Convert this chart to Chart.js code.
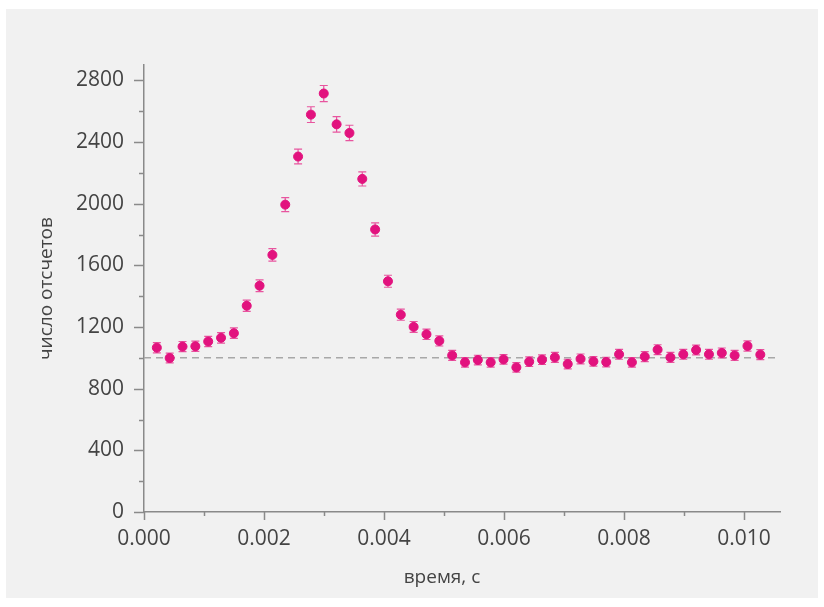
<!DOCTYPE html>
<html>
<head>
<meta charset="utf-8">
<script src="https://cdn.jsdelivr.net/npm/chart.js@4/dist/chart.umd.min.js"></script>
<style>
  html, body { margin: 0; padding: 0; background: #fff; }
  #wrap { width: 824px; height: 607px; }
</style>
</head>
<body>
<div id="wrap"><canvas id="c" width="824" height="607"></canvas></div>
<script>
// time bins, s
const times = [
  0.000214, 0.000428, 0.000642, 0.000856, 0.00107, 0.001284, 0.001498, 0.001712,
  0.001926, 0.00214, 0.002354, 0.002568, 0.002782, 0.002996, 0.00321, 0.003424,
  0.003638, 0.003852, 0.004066, 0.00428, 0.004494, 0.004708, 0.004922, 0.005136,
  0.00535, 0.005564, 0.005778, 0.005992, 0.006206, 0.00642, 0.006634, 0.006848,
  0.007062, 0.007276, 0.00749, 0.007704, 0.007918, 0.008132, 0.008346, 0.00856,
  0.008774, 0.008988, 0.009202, 0.009416, 0.00963, 0.009844, 0.010058, 0.010272,
];
// counts per bin
const counts = [
  1066, 999, 1073, 1075, 1106, 1130, 1160, 1338,
  1468, 1668, 1994, 2306, 2578, 2715, 2515, 2459,
  2161, 1833, 1497, 1280, 1201, 1153, 1110, 1016,
  971, 986, 971, 990, 938, 975, 988, 1003,
  960, 993, 977, 973, 1023, 971, 1008, 1053,
  1003, 1023, 1051, 1023, 1032, 1016, 1077, 1021,
];
// error bars (± counts)
const errors = [
  33, 32, 33, 33, 33, 34, 34, 37,
  38, 41, 45, 48, 51, 52, 50, 50,
  46, 43, 39, 36, 35, 34, 33, 32,
  31, 31, 31, 31, 31, 31, 31, 32,
  31, 32, 31, 31, 32, 31, 32, 32,
  32, 32, 32, 32, 32, 32, 33, 32,
];
const baseline = 1000;
const xTicks = [0, 0.002, 0.004, 0.006, 0.008, 0.010];
const yTicks = [0, 400, 800, 1200, 1600, 2000, 2400, 2800];
const xTitle = "время, с";
const yTitle = "число отсчетов";

const PINK = "#e2127e";
const AXIS = "#8a8a8a";
const TEXT = "#444";
const FONT = "'Open Sans', 'Noto Sans', sans-serif";

const panel = {
  id: "panel",
  beforeDraw(chart) {
    const ctx = chart.ctx;
    ctx.save();
    ctx.fillStyle = "#fff";
    ctx.fillRect(0, 0, chart.width, chart.height);
    ctx.fillStyle = "#f1f1f1";
    ctx.fillRect(6, 9, chart.width - 12, chart.height - 18);
    ctx.restore();
  },
};

const extras = {
  id: "extras",
  beforeDatasetsDraw(chart) {
    const { ctx, chartArea: a, scales: { x, y } } = chart;
    ctx.save();
    // dashed baseline
    ctx.strokeStyle = "#a8a8a8";
    ctx.lineWidth = 1.5;
    ctx.setLineDash([7, 5]);
    const yb = y.getPixelForValue(baseline);
    ctx.beginPath();
    ctx.moveTo(a.left, yb);
    ctx.lineTo(a.right - 4, yb);
    ctx.stroke();
    ctx.setLineDash([]);
    // error bars
    ctx.strokeStyle = "#e8559f";
    ctx.lineWidth = 1.2;
    times.forEach((t, i) => {
      const px = x.getPixelForValue(t);
      const y1 = y.getPixelForValue(counts[i] + errors[i]);
      const y2 = y.getPixelForValue(counts[i] - errors[i]);
      ctx.beginPath();
      ctx.moveTo(px, y1); ctx.lineTo(px, y2);
      ctx.moveTo(px - 4, y1); ctx.lineTo(px + 4, y1);
      ctx.moveTo(px - 4, y2); ctx.lineTo(px + 4, y2);
      ctx.stroke();
    });
    // tick marks, major + minor
    ctx.strokeStyle = AXIS;
    ctx.lineWidth = 1.5;
    for (let v = 0; v <= 2800; v += 200) {
      const py = Math.round(y.getPixelForValue(v)) + 0.5;
      const len = v % 400 === 0 ? 10 : 5;
      ctx.beginPath();
      ctx.moveTo(a.left - len, py); ctx.lineTo(a.left, py);
      ctx.stroke();
    }
    for (let k = 0; k <= 10; k++) {
      const px = Math.round(x.getPixelForValue(k * 0.001)) + 0.5;
      const len = k % 2 === 0 ? 8 : 4;
      ctx.beginPath();
      ctx.moveTo(px, a.bottom); ctx.lineTo(px, a.bottom + len);
      ctx.stroke();
    }
    // axis titles
    ctx.fillStyle = TEXT;
    ctx.font = "19px " + FONT;
    ctx.textAlign = "center";
    ctx.textBaseline = "middle";
    ctx.fillText(xTitle, x.getPixelForValue(0.005) - 2, 578);
    ctx.translate(47, (a.top + a.bottom) / 2);
    ctx.rotate(-Math.PI / 2);
    ctx.fillText(yTitle, 0, 0);
    ctx.restore();
  },
};

new Chart(document.getElementById("c"), {
  type: "scatter",
  data: {
    datasets: [{
      data: times.map((t, i) => ({ x: t, y: counts[i] })),
      backgroundColor: PINK,
      borderColor: PINK,
      pointRadius: 4.5,
      pointHoverRadius: 4.5,
    }],
  },
  options: {
    responsive: false,
    animation: false,
    events: [],
    layout: { padding: { left: 0, right: 44, top: 65, bottom: 0 } },
    plugins: { legend: { display: false }, tooltip: { enabled: false } },
    scales: {
      x: {
        type: "linear",
        min: 0,
        max: 0.0106,
        afterFit: (s) => { s.height = 95; },
        afterBuildTicks: (s) => { s.ticks = xTicks.map((v) => ({ value: v })); },
        ticks: {
          color: TEXT,
          font: { family: FONT, size: 21 },
          padding: 4,
          maxRotation: 0,
          callback: (v) => v.toFixed(3),
        },
        grid: { display: true, drawOnChartArea: false, tickLength: 10, color: "transparent" },
        border: { display: true, color: AXIS, width: 1.5 },
      },
      y: {
        min: 0,
        max: 2900,
        afterFit: (s) => { s.width = 144; },
        afterBuildTicks: (s) => { s.ticks = yTicks.map((v) => ({ value: v })); },
        ticks: {
          color: TEXT,
          font: { family: FONT, size: 21 },
          padding: 10,
          callback: (v) => String(v),
        },
        grid: { display: true, drawOnChartArea: false, tickLength: 10, color: "transparent" },
        border: { display: true, color: AXIS, width: 1.5 },
      },
    },
  },
  plugins: [panel, extras],
});
</script>
</body>
</html>
